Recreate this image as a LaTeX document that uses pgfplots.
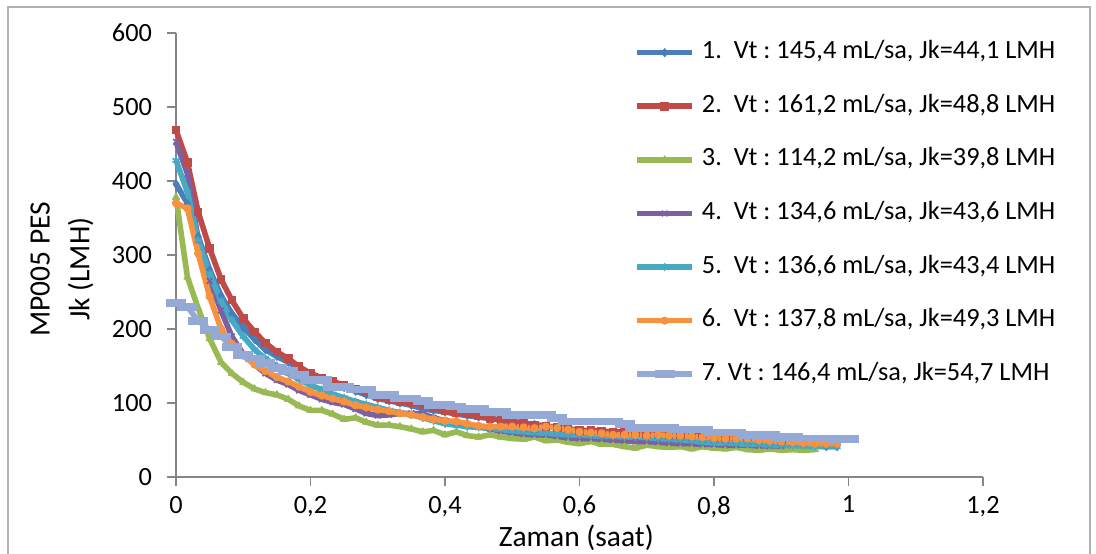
\documentclass[border=0pt]{standalone}
\usepackage{fontspec}
\setmainfont{Carlito}
\usepackage{pgfplots}
\usepackage{pgfplotstable}
\pgfplotsset{compat=1.18}
\frenchspacing

\definecolor{s1}{HTML}{4A7EBB}
\definecolor{s2}{HTML}{BE4B48}
\definecolor{s3}{HTML}{98B954}
\definecolor{s4}{HTML}{7D60A0}
\definecolor{s5}{HTML}{46AAC5}
\definecolor{s6}{HTML}{F69240}
\definecolor{s7}{HTML}{95A9D6}
\definecolor{axgray}{HTML}{868686}

\newcommand\tickfont{\fontsize{13.2pt}{15pt}\selectfont}
\newcommand\labfont{\fontsize{14.8pt}{20pt}\selectfont}

% flux vs time, one column per run
\pgfplotstableread{
t     s1  s2  s3  s4  s5  s6  s7
0.000 396 469 378 453 428 370 235
0.017 370 425 270 410 385 363 230
0.033 325 358 228 320 320 302 211
0.050 280 309 187 265 275 244 199
0.067 245 267 155 225 238 200 190
0.083 221 239 140 190 212 180 176
0.100 202 214 128 166 190 164 165
0.117 186 196 119 152 172 152 160
0.133 172 181 114 140 160 143 154
0.150 163 169 111 131 150 135 147
0.167 155 160 105 125 140 129 143
0.183 147 149 96  117 132 122 138
0.200 138 140 90  111 124 115 131
0.217 131 134 90  105 118 110 131
0.233 126 129 85  101 112 106 122
0.250 121 124 78  98  107 102 122
0.267 116 119 80  92  102 97  118
0.283 111 115 74  86  98  94  118
0.300 106 108 70  83  94  91  111
0.317 103 105 70  84  90  89  111
0.333 100 102 68  86  87  86  106
0.350 97  100 65  86  84  84  106
0.367 92  98  61  85  80  81  103
0.383 90  93  63  80  76  78  97
0.400 88  89  57  76  72  76  97
0.417 85  87  61  73  70  75  95
0.433 83  86  56  70  68  72  92
0.450 81  83  54  68  67  69  92
0.467 79  79  57  65  66  68  88
0.483 77  77  54  62  64  68  88
0.500 75  75  52  60  62  68  84
0.517 73  72  51  58  61  67  84
0.533 71  70  54  57  60  66  84
0.550 69  68  49  57  59  68  84
0.567 67  67  50  55  58  66  80
0.583 65  65  47  53  57  64  75
0.600 63  63  45  52  57  61  75
0.617 61  63  48  52  56  60  75
0.633 59  62  44  51  55  59  75
0.650 58  61  44  50  55  57  75
0.667 56  61  41  49  54  57  72
0.683 55  60  39  48  54  57  66
0.700 54  59  43  48  53  56  66
0.717 52  58  41  47  52  57  66
0.733 51  57  40  46  51  56  66
0.750 50  57  41  45  50  56  64
0.767 49  58  38  45  49  55  64
0.783 48  57  41  44  47  54  64
0.800 47  55  39  44  46  53  60
0.817 46  55  38  43  46  52  60
0.833 46  54  40  43  45  52  60
0.850 45  54  37  43  44  52  57
0.867 44  53  36  42  44  50  57
0.883 44  52  38  42  43  49  57
0.900 43  51  36  42  43  48  54
0.917 43  nan 37  nan 42  47  54
0.933 42  nan 36  nan 42  46  52
0.950 42  nan 37  nan 41  45  52
0.967 41  nan nan nan 41  45  52
0.983 41  nan nan nan 41  45  51
1.000 nan nan nan nan nan nan 51
}\fluxdata

\begin{document}
\begin{tikzpicture}
\begin{axis}[
    scale only axis, width=403.5bp, height=222bp,
    xmin=0, xmax=1.2, ymin=0, ymax=600,
    xtick={0,0.2,0.4,0.6,0.8,1,1.2},
    xticklabels={0,{0,2},{0,4},{0,6},{0,8},1,{1,2}},
    ytick={0,100,200,300,400,500,600},
    yticklabels={0,100,200,300,400,500,600},
    axis x line*=bottom, axis y line*=left,
    axis line style={axgray, line width=0.75bp, -},
    tick style={axgray, line width=0.75bp},
    tick align=outside, major tick length=4.5bp,
    xticklabel style={font=\tickfont, yshift=-1.5bp},
    yticklabel style={font=\tickfont, xshift=-4bp},
    xlabel={Zaman (saat)},
    ylabel={MP005 PES\\Jk (LMH)},
    xlabel style={font=\labfont, at={(axis description cs:0.496,-0.137)}, anchor=center},
    ylabel style={font=\labfont, align=center, at={(axis description cs:-0.1413,0.468)}, anchor=center},
    clip=false,
    legend cell align=left,
    legend style={at={(rel axis cs:0.5675,0.9836)}, anchor=north west, draw=none, fill=none,
        font=\tickfont, inner sep=0pt, row sep=14.8bp,
        nodes={inner sep=0pt, text height=9bp, text depth=3bp},
        /tikz/every odd column/.append style={column sep=3.5bp}},
    legend image code/.code={\draw[mark repeat=2,mark phase=2,#1] plot coordinates {(0bp,0bp) (13.75bp,0bp) (27.5bp,0bp)};},
    every axis plot/.append style={line width=2.8bp, line join=round},
]
\addplot[s1, mark=diamond*, mark size=2bp, mark options={solid, line width=0.5bp}] table[x=t, y=s1] {\fluxdata};
\addlegendentry{1.\ \ Vt : 145,4 mL/sa, Jk=44,1 LMH}
\addplot[s2, mark=square*, mark size=1.9bp, mark options={solid, line width=0.5bp}] table[x=t, y=s2] {\fluxdata};
\addlegendentry{2.\ \ Vt : 161,2 mL/sa, Jk=48,8 LMH}
\addplot[s3, mark=triangle*, mark size=2bp, mark options={solid, line width=0.5bp}] table[x=t, y=s3] {\fluxdata};
\addlegendentry{3.\ \ Vt : 114,2 mL/sa, Jk=39,8 LMH}
\addplot[s4, mark=x, mark size=2bp, mark options={solid, line width=0.8bp}] table[x=t, y=s4] {\fluxdata};
\addlegendentry{4.\ \ Vt : 134,6 mL/sa, Jk=43,6 LMH}
\addplot[s5, mark=asterisk, mark size=2bp, mark options={solid, line width=0.8bp}] table[x=t, y=s5] {\fluxdata};
\addlegendentry{5.\ \ Vt : 136,6 mL/sa, Jk=43,4 LMH}
\addplot[s6, mark=*, mark size=1.8bp, mark options={solid, line width=0.5bp}] table[x=t, y=s6] {\fluxdata};
\addlegendentry{6.\ \ Vt : 137,8 mL/sa, Jk=49,3 LMH}
\addplot[s7, mark=-, mark size=5bp, mark options={solid, line width=3.8bp}] table[x=t, y=s7] {\fluxdata};
\addlegendentry{7. Vt : 146,4 mL/sa, Jk=54,7 LMH}
\end{axis}
\draw[gray!60, line width=0.75bp] (-84bp,-60bp) -- (-84bp,235bp) -- (457bp,235bp) -- (457bp,-60bp);
\pgfresetboundingbox
\useasboundingbox (-88bp,-38.5bp) rectangle (460bp,238.5bp);
\end{tikzpicture}
\end{document}
